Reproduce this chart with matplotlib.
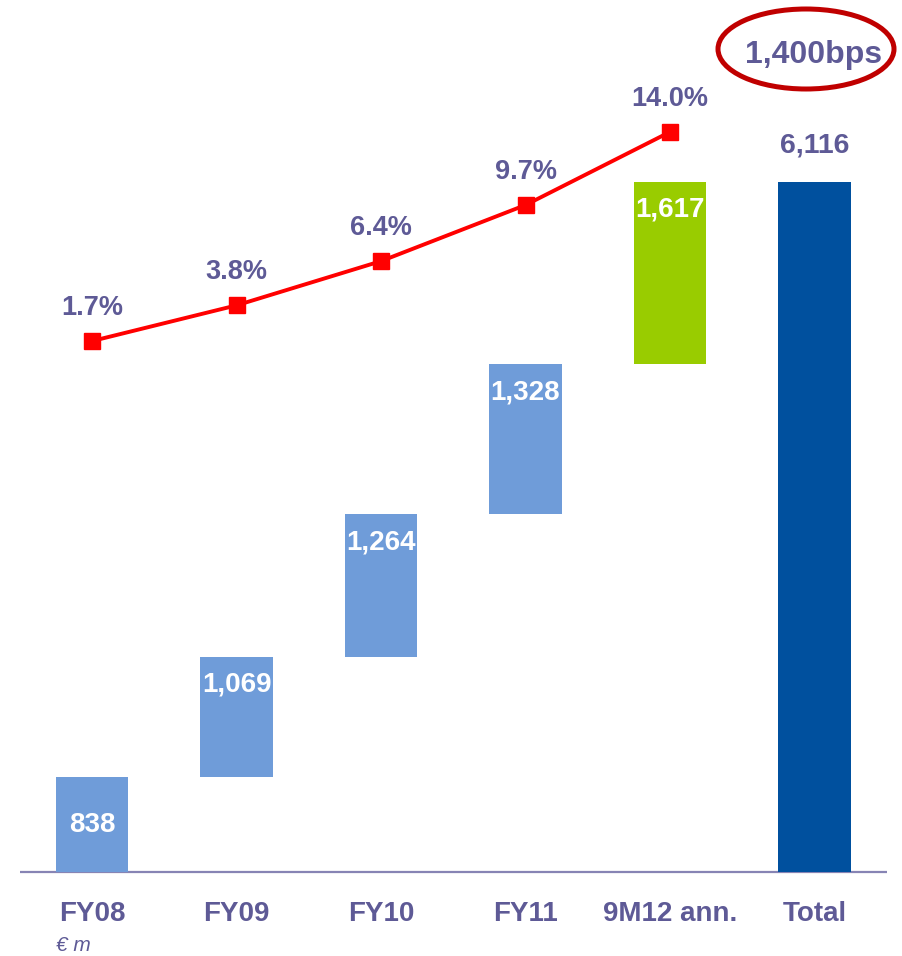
import matplotlib
matplotlib.use("Agg")
import matplotlib.pyplot as plt
from matplotlib.patches import Ellipse

# Data
categories = ["FY08", "FY09", "FY10", "FY11", "9M12 ann.", "Total"]
increments = [838, 1069, 1264, 1328, 1617]
total = 6116
margins = [1.7, 3.8, 6.4, 9.7, 14.0]
uplift_label = "1,400bps"
unit_label = "€ m"

# Styling
TEXT = "#5E5A96"
LIGHT_BLUE = "#6F9CD9"
GREEN = "#99CC00"
DARK_BLUE = "#00509E"
RED = "#FF0000"
RING = "#C00000"
AXIS = "#8784B4"

plt.rcParams["font.family"] = ["Liberation Sans", "DejaVu Sans"]

W, H = 902, 956
fig = plt.figure(figsize=(W / 100, H / 100), dpi=100)
ax = fig.add_axes([0, 0, 1, 1])
ax.set_xlim(-0.6367, 5.6055)
ax.set_ylim(-744.5, 7729)
ax.axis("off")

# Percent axis shares the x positions
ax2 = ax.twinx()
ax2.set_position([0, 0, 1, 1])
ax2.set_ylim(-34.47, 21.76)
ax2.axis("off")

x = list(range(len(categories)))
width = 0.5

# Waterfall bars
bottoms = []
run = 0
for v in increments:
    bottoms.append(run)
    run += v
colors = [LIGHT_BLUE] * 4 + [GREEN]
ax.bar(x[:5], increments, bottom=bottoms, width=width, color=colors, zorder=2)
ax.bar(x[5], total, width=width, color=DARK_BLUE, zorder=2)

# Labels inside bars
for i, (v, b) in enumerate(zip(increments, bottoms)):
    if i == 0:
        ax.text(x[i], b + v / 2, f"{v:,}", ha="center", va="center",
                color="white", fontsize=20, fontweight="bold", zorder=3)
    else:
        ax.annotate(f"{v:,}", (x[i], b + v), xytext=(0, -20),
                    textcoords="offset points", ha="center", va="center",
                    color="white", fontsize=20, fontweight="bold", zorder=3)
ax.annotate(f"{total:,}", (x[5], total), xytext=(0, 26),
            textcoords="offset points", ha="center", va="center",
            color=TEXT, fontsize=20.5, fontweight="bold")

# Baseline
ax.plot([-0.498, 5.502], [0, 0], color=AXIS, lw=1.6, zorder=1,
        solid_capstyle="butt")

# Category labels
for xi, c in zip(x, categories):
    ax.annotate(c, (xi, 0), xytext=(0, -30), textcoords="offset points",
                ha="center", va="center", color=TEXT, fontsize=20,
                fontweight="bold")
ax.annotate(unit_label, (0, 0), xytext=(-26, -53), textcoords="offset points",
            ha="left", va="center", color=TEXT, fontsize=15, style="italic")

# Margin line
ax2.plot(x[:5], margins, color=RED, lw=2.8, marker="s", markersize=11.5,
         markerfacecolor=RED, markeredgecolor=RED, zorder=4)
for xi, m in zip(x[:5], margins):
    ax2.annotate(f"{m:.1f}%", (xi, m), xytext=(0, 24),
                 textcoords="offset points", ha="center", va="center",
                 color=TEXT, fontsize=19.5, fontweight="bold")

# Highlighted uplift
fig.text(814 / W, 1 - 55 / H, uplift_label, ha="center", va="center",
         color=TEXT, fontsize=23, fontweight="bold")
ring = Ellipse((806 / W, 1 - 49 / H), 176 / W, 80 / H, transform=fig.transFigure,
               fill=False, edgecolor=RING, lw=3.6)
fig.add_artist(ring)

fig.savefig("out.png", dpi=100)
